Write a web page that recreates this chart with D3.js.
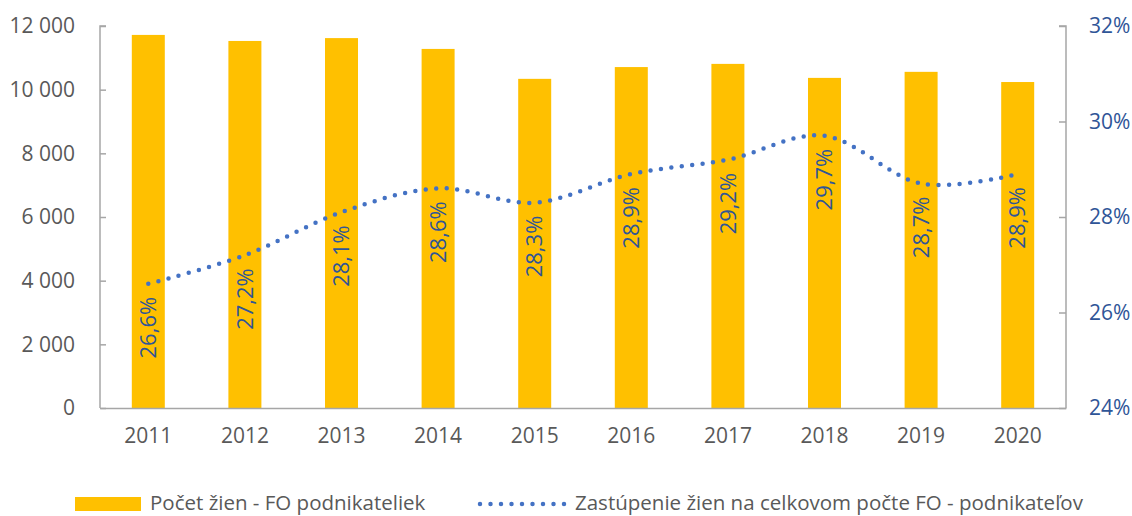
<!DOCTYPE html>
<html>
<head>
<meta charset="utf-8">
<script src="https://cdn.jsdelivr.net/npm/d3@7"></script>
<style>
  html, body { margin: 0; padding: 0; background: #fff; }
  svg { display: block; font-family: "Open Sans", sans-serif; }
</style>
</head>
<body>
<svg id="chart" width="1132" height="516"></svg>
<script>
// data
const years = ["2011", "2012", "2013", "2014", "2015", "2016", "2017", "2018", "2019", "2020"];
const womenCount = [11720, 11530, 11620, 11280, 10340, 10710, 10810, 10370, 10560, 10240];
const womenShare = [26.6, 27.2, 28.1, 28.6, 28.3, 28.9, 29.2, 29.7, 28.7, 28.9];
const leftTicks = [0, 2000, 4000, 6000, 8000, 10000, 12000];
const rightTicks = [24, 26, 28, 30, 32];
const legendLabels = ["Počet žien - FO podnikateliek", "Zastúpenie žien na celkovom počte FO - podnikateľov"];

const svg = d3.select("#chart");
const plot = { left: 100, right: 1066, top: 26, bottom: 408 };

const x = d3.scaleBand().domain(years).range([plot.left, plot.right]).paddingInner(0).paddingOuter(0);
const yLeft = d3.scaleLinear().domain([0, 12000]).range([plot.bottom, plot.top]);
const yRight = d3.scaleLinear().domain([24, 32]).range([plot.bottom, plot.top]);

const fmtThousands = d3.formatLocale({ decimal: ",", thousands: "\u00a0", grouping: [3] }).format(",d");
const fmtShare = (v) => v.toFixed(1).replace(".", ",") + "%";

const barW = 33;

// bars
svg.append("g")
  .selectAll("rect")
  .data(womenCount)
  .join("rect")
  .attr("x", (d, i) => x(years[i]) + x.bandwidth() / 2 - barW / 2)
  .attr("y", (d) => yLeft(d))
  .attr("width", barW)
  .attr("height", (d) => yLeft(0) - yLeft(d))
  .attr("fill", "#FFC000");

// axes
const axisColor = "#A6A6A6";
const gLeft = svg.append("g")
  .attr("transform", `translate(${plot.left},0)`)
  .call(d3.axisRight(yLeft).tickValues(leftTicks).tickSize(6).tickFormat(""));
gLeft.select(".domain").attr("stroke", axisColor).attr("stroke-width", 1.5).attr("d", `M6,${plot.top}H0V${plot.bottom}`);
gLeft.selectAll(".tick line").attr("stroke", axisColor).attr("stroke-width", 1.5);

svg.append("g")
  .selectAll("text")
  .data(leftTicks)
  .join("text")
  .attr("x", 75)
  .attr("y", (d) => yLeft(d))
  .attr("dy", "0.35em")
  .attr("text-anchor", "end")
  .attr("fill", "#595959")
  .style("font-size", "21px")
  .text((d) => fmtThousands(d));

const gRight = svg.append("g")
  .attr("transform", `translate(${plot.right},0)`)
  .call(d3.axisLeft(yRight).tickValues(rightTicks).tickSize(7).tickFormat(""));
gRight.select(".domain").attr("stroke", axisColor).attr("stroke-width", 1.5).attr("d", `M-7,${plot.top}H0V${plot.bottom}`);
gRight.selectAll(".tick line").attr("stroke", axisColor).attr("stroke-width", 1.5);

svg.append("g")
  .selectAll("text")
  .data(rightTicks)
  .join("text")
  .attr("x", 1089)
  .attr("y", (d) => yRight(d))
  .attr("dy", "0.35em")
  .attr("fill", "#2F5597")
  .style("font-size", "21px")
  .text((d) => d + "%");

const gBottom = svg.append("g")
  .attr("transform", `translate(0,${plot.bottom})`)
  .call(d3.axisBottom(x).tickSize(0).tickPadding(20));
gBottom.select(".domain").attr("stroke", axisColor).attr("stroke-width", 1.5);
gBottom.selectAll("text")
  .attr("fill", "#595959")
  .style("font-size", "21px")
  .style("font-family", "'Open Sans', sans-serif");

// share line (smoothed, round dots)
const line = d3.line()
  .x((d, i) => x(years[i]) + x.bandwidth() / 2)
  .y((d) => yRight(d))
  .curve(d3.curveCardinal.tension(0));

svg.append("path")
  .datum(womenShare)
  .attr("d", line)
  .attr("fill", "none")
  .attr("stroke", "#4472C4")
  .attr("stroke-width", 4.5)
  .attr("stroke-linecap", "round")
  .attr("stroke-dasharray", "0 10.5");

// data labels
svg.append("g")
  .selectAll("text")
  .data(womenShare)
  .join("text")
  .attr("transform", (d, i) => `translate(${x(years[i]) + x.bandwidth() / 2},${yRight(d) + 13}) rotate(-90)`)
  .attr("text-anchor", "end")
  .attr("dy", "0.35em")
  .attr("fill", "#2F5597")
  .style("font-size", "22px")
  .text((d) => fmtShare(d));

// legend
const legend = svg.append("g").style("font-size", "20.5px").attr("fill", "#595959");
legend.append("rect").attr("x", 75).attr("y", 497).attr("width", 66).attr("height", 14).attr("fill", "#FFC000");
legend.append("text").attr("x", 150).attr("y", 503).attr("dy", "0.35em").text(legendLabels[0]);
legend.append("line")
  .attr("x1", 480).attr("x2", 565).attr("y1", 504).attr("y2", 504)
  .attr("stroke", "#4472C4").attr("stroke-width", 4.5)
  .attr("stroke-linecap", "round").attr("stroke-dasharray", "0 10.5");
legend.append("text").attr("x", 575).attr("y", 503).attr("dy", "0.35em").text(legendLabels[1]);
</script>
</body>
</html>
